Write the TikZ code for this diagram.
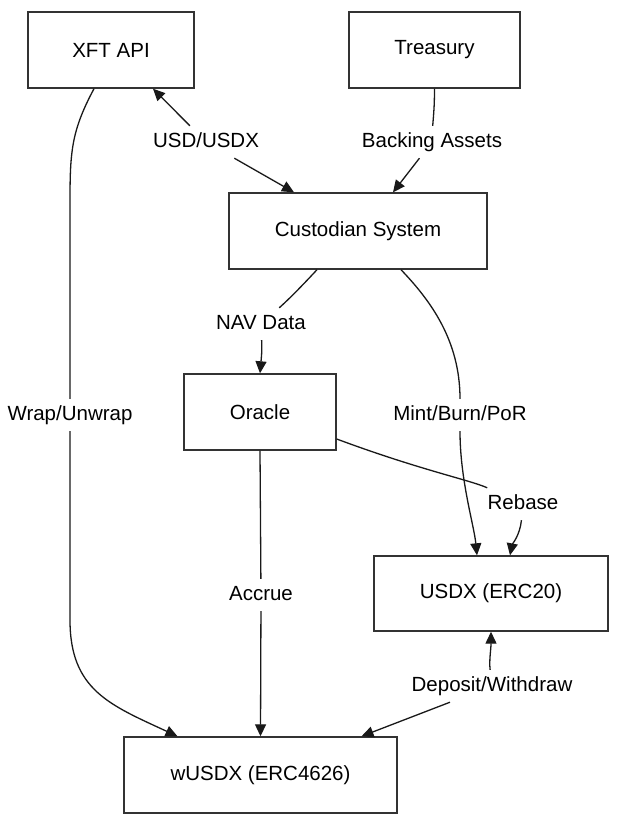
\documentclass[tikz,border=0pt]{standalone}
\usepackage{fontspec}
\setmainfont{Liberation Sans}
\usetikzlibrary{arrows.meta}
\begin{document}
\begin{tikzpicture}[x=1pt,y=-1pt,
  box/.style={draw=black!80, line width=1.4pt, minimum height=76pt, inner sep=0pt, font=\fontsize{20.5}{24}\selectfont},
  lab/.style={fill=white, inner xsep=3pt, inner ysep=6pt, text height=15pt, text depth=5pt, font=\fontsize{20.5}{24}\selectfont},
  conn/.style={line width=1.3pt, draw=black!90},
  tipend/.style={-{Triangle[length=12pt,width=11pt]}},
  tipstart/.style={{Triangle[length=12pt,width=11pt]}-}]
\useasboundingbox[fill=white] (0,0) rectangle (621,825);

% boxes
\node[box, minimum width=166pt] (xft) at (111,50) {XFT API};
\node[box, minimum width=171pt] (tre) at (434.5,50) {Treasury};
\node[box, minimum width=258pt] (cust) at (358,231) {Custodian System};
\node[box, minimum width=152pt] (ora) at (260,412) {Oracle};
\node[box, minimum width=234pt, minimum height=75pt] (usdx) at (491,593.5) {USDX (ERC20)};
\node[box, minimum width=273pt] (wusdx) at (260.5,775) {wUSDX (ERC4626)};

% labels
\node[lab] (l1) at (206,142) {USD/USDX};
\node[lab] (l2) at (432,142) {Backing Assets};
\node[lab] (l3) at (261,324) {NAV Data};
\node[lab] (l4) at (460,415) {Mint/Burn/PoR};
\node[lab] (l5) at (523,504) {Rebase};
\node[lab] (l6) at (261,595) {Accrue};
\node[lab] (l7) at (70,415) {Wrap/Unwrap};
\node[lab] (l8) at (492,686) {Deposit/Withdraw};

% connectors
\draw[conn, tipstart] ([xshift=42pt]xft.south) -- (l1);
\draw[conn, tipend] (l1) -- ([xshift=-64pt]cust.north);

\draw[conn] (tre.south) .. controls (434.5,110) and (433,120) .. (l2);
\draw[conn, tipend] (l2) -- ([xshift=35pt]cust.north);

\draw[conn] ([xshift=-41pt]cust.south) .. controls (300,288) and (288,300) .. (l3);
\draw[conn, tipend] (l3) .. controls (262,350) .. (ora.north);

\draw[conn] ([xshift=43pt]cust.south) .. controls (430,300) and (460,340) .. (l4);
\draw[conn, tipend] (l4) .. controls (460,480) and (474,525) .. ([xshift=-14pt]usdx.north);

\draw[conn] ([yshift=-27pt]ora.east) .. controls (420,470) and (470,480) .. (l5);
\draw[conn, tipend] (l5) .. controls (520,535) and (512,545) .. ([xshift=19pt]usdx.north);

\draw[conn] (ora.south) -- (l6);
\draw[conn, tipend] (l6) -- (wusdx.north);

\draw[conn] ([xshift=-17pt]xft.south) .. controls (72,130) and (70,150) .. (70,200) -- (l7);
\draw[conn, tipend] (l7) -- (70,620) .. controls (70,690) and (110,705) .. ([xshift=-83pt]wusdx.north);

\draw[conn, tipstart] (usdx.south) .. controls (491,650) and (489,660) .. (l8);
\draw[conn, tipend] (l8) -- ([xshift=101pt]wusdx.north);
\end{tikzpicture}
\end{document}
